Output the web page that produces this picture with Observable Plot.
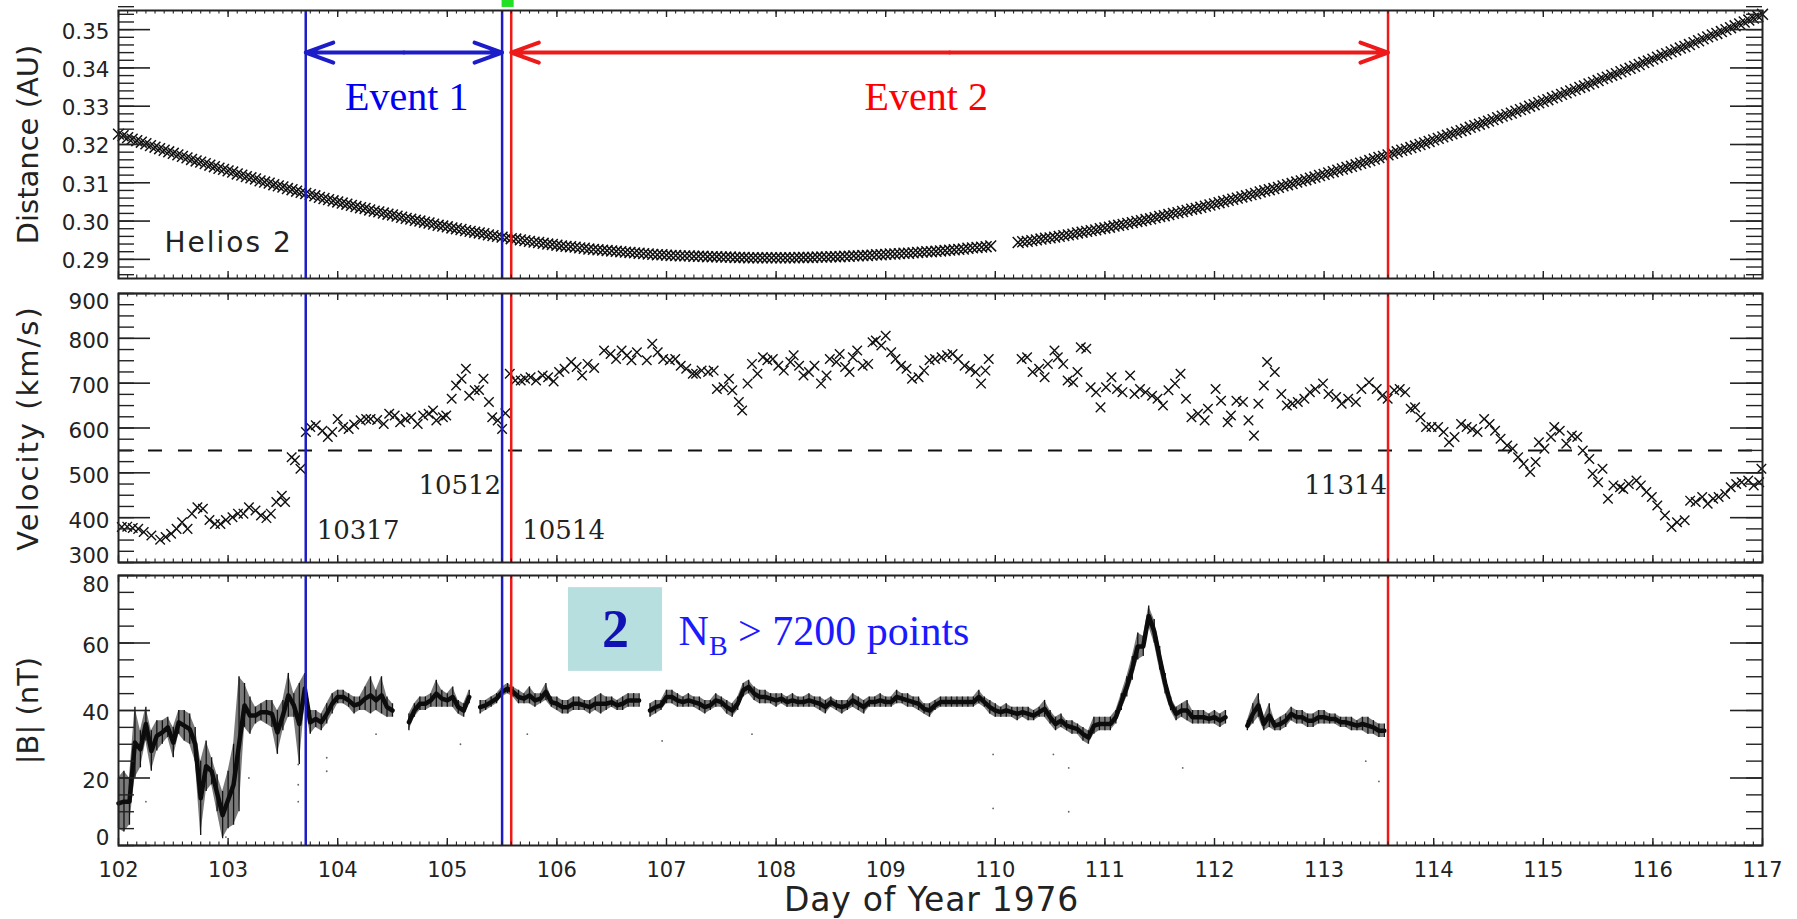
<!DOCTYPE html>
<html>
<head>
<meta charset="utf-8">
<script src="https://cdn.jsdelivr.net/npm/d3@7"></script>
<script src="https://cdn.jsdelivr.net/npm/@observablehq/plot@0.6"></script>
<style>
  html, body { margin: 0; padding: 0; background: #fff; }
  #chart { width: 1797px; }
  #chart svg { display: block; }
</style>
</head>
<body>
<div id="chart"></div>
<script>
// ---------------------------------------------------------------------------
// Helios 2, day of year 102-117, 1976
// ---------------------------------------------------------------------------

// Heliocentric distance, hourly samples starting at day 102.0,
// in units of 1e-4 AU (null = no sample)
const DIST_START = 102;
const distanceE4 = [
  3227,3223,3218,3214,3210,3206,3202,3197,3193,3189,3185,3181,3177,3173,3169,3165,3161,3157,3154,3150,3146,3142,3138,3135,
  3131,3128,3123,3120,3116,3113,3110,3105,3102,3099,3095,3092,3089,3085,3082,3078,3075,3072,3069,3066,3062,3059,3056,3053,
  3050,3047,3044,3041,3038,3035,3033,3029,3026,3024,3021,3018,3016,3013,3010,3007,3005,3002,3000,2997,2995,2992,2989,2987,
  2985,2982,2980,2978,2975,2973,2971,2969,2967,2964,2962,2960,2958,2956,2954,2953,2951,2949,2947,2945,2944,2942,2940,2939,
  2937,2935,2934,2933,2932,2930,2929,2927,2926,2925,2924,2923,2922,2921,2920,2919,2918,2917,2916,2915,2914,2913,2912,2912,
  2911,2910,2910,2909,2909,2909,2908,2908,2908,2907,2907,2907,2906,2906,2906,2905,2905,2905,2904,2904,2904,2904,2904,2904,
  2904,2904,2904,2904,2904,2905,2905,2905,2905,2906,2906,2906,2907,2907,2907,2908,2908,2909,2909,2910,2910,2911,2912,2912,
  2913,2914,2914,2915,2916,2916,2917,2918,2919,2920,2920,2921,2922,2923,2924,2925,2926,2927,2929,2930,2931,2932,2933,2935,
  null,null,null,null,null,2944,2946,2947,2949,2951,2953,2955,2956,2958,2960,2962,2964,2966,2969,2971,2973,2975,2977,2980,
  2982,2984,2987,2989,2991,2994,2996,2999,3001,3004,3006,3009,3012,3014,3017,3020,3022,3025,3028,3031,3033,3036,3039,3042,
  3045,3048,3051,3054,3057,3060,3063,3066,3069,3072,3076,3079,3082,3085,3088,3092,3095,3098,3102,3105,3108,3112,3115,3119,
  3122,3126,3129,3133,3136,3140,3143,3147,3151,3154,3158,3162,3166,3169,3173,3177,3181,3185,3188,3192,3196,3200,3204,3208,
  3212,3216,3220,3224,3228,3232,3236,3240,3245,3249,3253,3257,3261,3265,3270,3274,3278,3282,3287,3291,3295,3300,3304,3309,
  3313,3317,3322,3326,3331,3335,3340,3344,3349,3353,3358,3362,3367,3372,3376,3381,3385,3390,3395,3399,3404,3409,3414,3418,
  3423,3428,3433,3437,3442,3447,3452,3456,3461,3466,3471,3476,3481,3486,3490,3495,3500,3505,3510,3515,3520,3525,3530,3535,
  3540
];

// Solar wind bulk speed (km/s)
const velocityDay = [
  102.03,102.08,102.13,102.18,102.23,102.30,102.38,102.43,102.48,102.53,102.58,102.63,102.67,102.72,102.77,102.83,102.88,102.93,102.98,
  103.04,103.09,103.14,103.19,103.25,103.30,103.35,103.39,103.44,103.49,103.52,103.58,103.61,103.66,103.71,103.75,103.80,103.86,103.91,103.95,
  104.00,104.05,104.10,104.15,104.21,104.26,104.30,104.36,104.42,104.47,104.52,104.57,104.62,104.67,104.73,104.78,104.83,104.87,104.90,104.96,104.99,
  105.04,105.08,105.13,105.17,105.20,105.25,105.29,105.33,105.38,105.41,105.46,105.50,105.53,105.57,105.62,105.67,105.71,105.76,105.81,105.87,105.92,105.97,
  106.02,106.07,106.13,106.18,106.23,106.28,106.34,106.43,106.49,106.54,106.59,106.64,106.68,106.73,106.82,106.87,106.92,106.97,
  107.03,107.08,107.13,107.18,107.24,107.27,107.32,107.38,107.43,107.46,107.52,107.57,107.60,107.66,107.69,107.74,107.78,107.83,107.88,107.92,107.97,
  108.02,108.07,108.13,108.16,108.21,108.25,108.30,108.35,108.41,108.46,108.49,108.55,108.58,108.63,108.67,108.70,108.74,108.79,108.84,108.88,108.91,108.96,
  109.00,109.05,109.09,109.14,109.19,109.24,109.30,109.35,109.40,109.45,109.51,109.56,109.61,109.66,109.72,109.77,109.82,109.87,109.91,109.94,
  110.24,110.29,110.34,110.40,110.45,110.48,110.54,110.57,110.62,110.66,110.71,110.75,110.78,110.83,110.87,110.92,110.96,
  111.01,111.06,111.11,111.16,111.23,111.27,111.32,111.37,111.43,111.48,111.53,111.58,111.64,111.69,111.74,111.79,111.85,111.91,111.94,
  112.01,112.06,112.12,112.15,112.20,112.26,112.31,112.36,112.40,112.45,112.48,112.55,112.61,112.66,112.71,112.76,112.82,112.87,112.92,112.99,
  113.04,113.11,113.16,113.22,113.29,113.34,113.41,113.48,113.53,113.58,113.64,113.69,113.74,113.79,113.83,113.88,113.93,113.98,
  114.04,114.09,114.14,114.19,114.25,114.30,114.35,114.40,114.46,114.51,114.56,114.61,114.67,114.72,114.77,114.82,114.88,114.93,114.96,
  115.01,115.07,115.10,115.15,115.21,115.26,115.31,115.36,115.42,115.45,115.50,115.54,115.59,115.64,115.70,115.73,115.78,115.85,115.89,115.94,115.99,
  116.04,116.11,116.17,116.22,116.29,116.34,116.39,116.45,116.50,116.55,116.60,116.66,116.71,116.76,116.81,116.87,116.92,116.97,116.99
];
const velocityKms = [
  379,380,377,375,368,360,351,357,364,375,390,375,409,423,420,395,386,386,395,
  401,409,409,423,416,405,399,409,435,449,435,535,528,509,591,602,606,594,580,591,
  620,602,598,608,617,620,620,618,609,632,628,613,620,624,609,628,632,639,617,624,628,
  665,695,710,732,672,684,685,710,658,624,617,598,633,721,706,706,710,713,706,717,713,704,
  725,732,747,736,717,743,734,773,765,754,773,762,751,769,751,788,769,754,
  751,754,739,732,721,721,728,725,728,687,691,710,684,658,639,699,743,721,758,751,754,
  739,728,747,762,739,717,725,739,699,717,754,747,765,736,725,758,773,739,743,791,795,784,
  806,769,754,739,732,710,713,728,751,754,758,762,765,754,739,732,725,699,728,754,
  754,758,725,732,713,743,773,758,743,706,702,725,780,777,691,680,646,
  691,713,687,680,717,676,687,680,672,665,650,684,699,721,665,624,632,617,643,
  687,661,613,628,661,658,617,583,654,695,747,725,676,650,654,658,665,680,687,699,
  676,669,654,665,658,687,702,687,672,665,684,687,680,643,646,624,602,602,
  602,591,568,580,609,602,598,591,620,609,594,576,561,554,535,520,502,524,568,
  554,580,602,594,565,583,580,550,531,498,479,509,442,472,468,464,475,483,472,457,446,
  427,405,379,390,394,438,435,446,431,442,446,453,468,475,479,483,472,479,509
];
const FAST_WIND_KMS = 550;

// |B| envelope (nT), one low/high pair every 0.05 day from day 102.00 (null = gap)
const B_START = 102, B_STEP = 0.05;
const bLow = [
   5, 4, 6,20,23,31,22,28,30,32,26,33,31,30,25, 3,16,18,10, 2,
   5, 6,10,35,33,36,37,36,35,27,34,38,38,24,42,33,35,34,36,39,
  42,42,41,39,40,40,39,40,39,38,38,null,null,34,38,40,40,41,41,41,
  41,41,39,38,42,null,39,40,41,42,44,45,44,42,42,42,41,42,43,41,
  40,39,39,40,40,40,39,40,39,40,41,40,40,41,41,41,null,38,39,40,
  42,42,41,41,41,41,40,39,40,41,41,39,38,40,44,45,43,42,42,42,
  41,42,41,41,41,41,41,41,40,39,41,40,39,40,41,40,39,41,41,41,
  41,41,42,42,41,41,40,39,38,40,41,41,41,41,41,41,41,42,41,39,
  38,38,38,38,37,38,37,37,38,38,36,34,35,34,33,33,31,30,33,34,
  34,34,36,40,44,49,55,56,65,60,52,45,40,37,38,37,36,36,36,36,
  36,35,36,null,null,null,34,36,38,34,35,34,34,35,37,36,36,35,35,36,
  36,36,36,35,35,34,34,34,33,33,32,32
];
const bHigh = [
  20,22,20,41,34,41,34,37,37,38,35,40,40,39,35,25,31,26,21,16,
  22,30,50,48,44,41,42,43,43,40,43,51,45,48,51,40,40,39,42,45,
  46,46,45,44,44,47,50,46,50,44,42,null,null,39,42,44,44,45,49,46,
  45,47,43,42,46,null,43,43,44,45,47,48,47,46,45,47,45,45,48,44,
  44,43,43,44,44,43,43,44,45,44,44,43,44,45,45,45,null,42,43,43,
  46,46,45,44,45,44,44,43,43,45,44,43,42,44,48,49,47,46,46,45,
  45,45,44,45,44,44,45,44,44,43,44,43,43,43,45,44,43,44,44,45,
  44,44,46,45,45,44,44,42,42,43,44,44,44,44,44,44,44,46,44,43,
  42,41,42,41,41,41,41,40,41,43,40,38,39,37,37,36,35,34,38,38,
  38,38,40,45,50,56,63,62,71,67,59,51,44,41,42,43,40,40,40,39,
  40,39,40,null,null,null,37,42,45,38,42,37,38,39,41,40,40,39,39,40,
  40,39,39,38,38,38,37,38,38,37,36,36
];
// isolated low |B| samples below the main trace
const bSpikeDay = [102.25,102.98,103.19,103.64,103.64,103.64,103.90,103.90,104.35,105.12,105.73,106.96,107.78,109.98,109.98,110.53,110.67,110.67,111.71,113.38,113.50];
const bSpikeNT  = [13,2.5,20,13,18,24,26,22,33,30,33,31,33,27,11,27,23,10,23,25,19];

// Event boundaries, coded DDDHH (day of year, hour)
const eventCodes  = ["10317", "10512", "10514", "11314"];
const eventNames  = ["Event 1", "Event 2"];
const eventLabelDay = [104.63, 109.37];

// axis ticks
const dayTicks = [102,103,104,105,106,107,108,109,110,111,112,113,114,115,116,117];
const distTicks = [0.29,0.30,0.31,0.32,0.33,0.34,0.35];
const velTicks = [300,400,500,600,700,800,900];
const bTicks = [0,20,40,60,80];

// ---------------------------------------------------------------------------
const W = 1797, ML = 118, MR = 35, FRAME_W = W - ML - MR;
const INK = "#222";
const BLUE = "#1c1cc8", RED = "#ee1a1a";
const SANS = "DejaVu Sans", SERIF = "Liberation Serif";

const codeToDay = (c) => +c.slice(0, 3) + +c.slice(3) / 24;
const events = eventCodes.map((code, i) => ({code, day: codeToDay(code), color: i < 2 ? BLUE : RED}));
const spans = [
  {start: events[0].day, end: events[1].day, color: BLUE, text: "#0000f0", name: eventNames[0], labelDay: eventLabelDay[0]},
  {start: events[2].day, end: events[3].day, color: RED, text: "#ff0000", name: eventNames[1], labelDay: eventLabelDay[1]}
];

const distance = distanceE4
  .map((v, i) => ({day: DIST_START + i / 24, au: v == null ? null : v / 1e4}))
  .filter((d) => d.au != null);
const velocity = velocityDay.map((d, i) => ({day: d, kms: velocityKms[i]}));
const bField = bLow.map((lo, i) => ({
  day: B_START + i * B_STEP, lo, hi: bHigh[i],
  mid: lo == null ? null : (lo + bHigh[i]) / 2
}));
const bSpikes = bSpikeDay.map((d, i) => ({day: d, nt: bSpikeNT[i]}));

const dayMinor = d3.range(0, 15 * 12 + 1).map((k) => 102 + k / 12);

// IDL-style box: inward ticks on all four sides, plus frame
function boxAxes(frameH, yMajor, yMinor) {
  const t = {stroke: INK, strokeWidth: 1.4};
  return [
    Plot.ruleX(dayMinor, {...t, strokeWidth: 1.1, insetTop: frameH - 3.5}),
    Plot.ruleX(dayMinor, {...t, strokeWidth: 1.1, insetBottom: frameH - 3.5}),
    Plot.ruleX(dayTicks, {...t, insetTop: frameH - 7}),
    Plot.ruleX(dayTicks, {...t, insetBottom: frameH - 7}),
    Plot.ruleY(yMinor, {...t, insetRight: FRAME_W - 16}),
    Plot.ruleY(yMinor, {...t, insetLeft: FRAME_W - 16}),
    Plot.ruleY(yMajor, {...t, strokeWidth: 1.6, insetRight: FRAME_W - 32}),
    Plot.ruleY(yMajor, {...t, strokeWidth: 1.6, insetLeft: FRAME_W - 32}),
    Plot.frame({stroke: INK, strokeWidth: 2})
  ];
}

function yLabels(groups, fmt) {
  return groups.map(([ticks, dy]) =>
    Plot.axisY({ticks, tickSize: 0, tickPadding: 9, tickFormat: fmt, label: null, dy, fontSize: 21.5, fill: INK})
  );
}

function yTitle(text, fontSize = 29) {
  return Plot.text([text], {frameAnchor: "left", rotate: -90, dx: -90, fontSize, fill: INK, textAnchor: "middle", lineAnchor: "middle"});
}

function eventRules() {
  return [
    Plot.ruleX(events.slice(0, 2), {x: "day", stroke: BLUE, strokeWidth: 2.5}),
    Plot.ruleX(events.slice(2), {x: "day", stroke: RED, strokeWidth: 2.5})
  ];
}

const baseStyle = {fontFamily: SANS, fontSize: "21px", color: INK, background: "#fff", overflow: "visible"};

// ---- Panel 1: distance ----------------------------------------------------
const ARROW_AU = 0.344, LABEL_AU = 0.3323;
const p1 = Plot.plot({
  width: W, height: 283, marginTop: 10, marginBottom: 5, marginLeft: ML, marginRight: MR,
  style: baseStyle,
  x: {domain: [102, 117], axis: null},
  y: {domain: [0.285, 0.355], axis: null},
  marks: [
    Plot.dot(distance, {x: "day", y: "au", symbol: "times", r: 5, stroke: "#111", strokeWidth: 1.5}),
    ...eventRules(),
    Plot.rect([0], {x1: events[1].day, x2: 105.61, y1: 0.3558, y2: 0.3577, fill: "#22e022"}),
    ...spans.flatMap((s) => [
      Plot.arrow([s], {x1: (d) => (d.start + d.end) / 2, x2: "start", y1: ARROW_AU, y2: ARROW_AU, stroke: s.color, strokeWidth: 4, headLength: 11, headAngle: 40}),
      Plot.arrow([s], {x1: (d) => (d.start + d.end) / 2, x2: "end", y1: ARROW_AU, y2: ARROW_AU, stroke: s.color, strokeWidth: 4, headLength: 11, headAngle: 40}),
      Plot.text([s], {x: "labelDay", y: LABEL_AU, text: "name", fill: s.text, fontFamily: SERIF, fontSize: 40, lineAnchor: "middle"})
    ]),
    Plot.text(["Helios 2"], {frameAnchor: "bottom-left", dx: 46, dy: -35, textAnchor: "start", lineAnchor: "middle", fontSize: 28, fill: INK}),
    ...boxAxes(268, distTicks, d3.range(0, 36).map((k) => 0.286 + k * 0.002)),
    ...yLabels([[distTicks, 2]], d3.format(".2f")),
    yTitle("Distance (AU)")
  ]
});

// ---- Panel 2: velocity ----------------------------------------------------
const p2 = Plot.plot({
  width: W, height: 284, marginTop: 10, marginBottom: 5, marginLeft: ML, marginRight: MR,
  style: baseStyle,
  x: {domain: [102, 117], axis: null},
  y: {domain: [300, 900], axis: null},
  marks: [
    Plot.ruleY([FAST_WIND_KMS], {stroke: "#111", strokeWidth: 2, strokeDasharray: "14,16"}),
    Plot.dot(velocity, {x: "day", y: "kms", symbol: "times", r: 4.4, stroke: "#111", strokeWidth: 1.4}),
    ...eventRules(),
    Plot.text([events[0], events[2]], {x: "day", y: 372, text: "code", dx: 11, textAnchor: "start", lineAnchor: "middle", fontFamily: "DejaVu Serif", fontSize: 26, fill: INK}),
    Plot.text([events[1], events[3]], {x: "day", y: 472, text: "code", dx: -1, textAnchor: "end", lineAnchor: "middle", fontFamily: "DejaVu Serif", fontSize: 26, fill: INK}),
    ...boxAxes(269, velTicks, d3.range(300, 901, 25)),
    ...yLabels([[[900], 9], [[400, 500, 600, 700, 800], 3], [[300], -6]]),
    yTitle("Velocity (km/s)")
  ]
});

// ---- Panel 3: |B| ---------------------------------------------------------
const NB_TEXT = "NB > 7200 points";
const p3 = Plot.plot({
  width: W, height: 352, marginTop: 8, marginBottom: 74, marginLeft: ML, marginRight: MR,
  style: baseStyle,
  x: {domain: [102, 117], axis: null},
  y: {domain: [0, 80], axis: null},
  marks: [
    Plot.rect([0], {x1: 106.106, x2: 106.964, y1: 51.6, y2: 76.4, fill: "#b7dfe0"}),
    Plot.text(["2"], {x: 106.535, y: 64, fontFamily: SERIF, fontWeight: "bold", fontSize: 54, fill: "#1212b4", lineAnchor: "middle"}),
    Plot.text([NB_TEXT], {x: 107.11, y: 63.4, textAnchor: "start", lineAnchor: "middle", fontFamily: SERIF, fontSize: 42, fill: "#1a1aff"}),
    // spread of the high-rate samples, with the denser core drawn on top
    Plot.areaY(bField, {x: "day", y1: "lo", y2: "hi", fill: "#222", fillOpacity: 0.6}),
    Plot.ruleX(bField, {x: "day", y1: "lo", y2: "hi", stroke: "#111", strokeWidth: 1.3}),
    Plot.lineY(bField, {x: "day", y: "mid", stroke: "#0c0c0c", strokeWidth: 4.5}),
    Plot.dot(bSpikes, {x: "day", y: "nt", r: 0.9, fill: "#666"}),
    ...eventRules(),
    ...boxAxes(270, bTicks, d3.range(0, 81, 5)),
    ...yLabels([[[80], 10], [[20, 40, 60], 3], [[0], -7]]),
    Plot.axisX({ticks: dayTicks, tickSize: 0, tickPadding: 17, tickFormat: (d) => String(d), label: null, fontSize: 21, fill: INK}),
    Plot.text(["Day of Year 1976"], {frameAnchor: "bottom", dx: -9, dy: 55, fontSize: 33, fill: INK, lineAnchor: "middle"}),
    yTitle("|B| (nT)")
  ]
});

const chart = document.getElementById("chart");
chart.append(p1, p2, p3);

// subscript in the N_B annotation, and letter spacing on a few labels
const SVGNS = "http://www.w3.org/2000/svg";
for (const t of chart.querySelectorAll("text")) {
  const s = t.textContent;
  if (s === NB_TEXT) {
    t.textContent = "";
    const n = document.createElementNS(SVGNS, "tspan"); n.textContent = "N";
    const b = document.createElementNS(SVGNS, "tspan"); b.textContent = "B"; b.setAttribute("font-size", "28"); b.setAttribute("dy", "10");
    const r = document.createElementNS(SVGNS, "tspan"); r.textContent = " > 7200 points"; r.setAttribute("dy", "-10");
    t.append(n, b, r);
  } else if (s === "Helios 2") {
    t.style.letterSpacing = "2px";
  } else if (s === "Velocity (km/s)") {
    t.style.letterSpacing = "2px";
  } else if (s === "Day of Year 1976") {
    t.style.letterSpacing = "0.8px";
  }
}
</script>
</body>
</html>
